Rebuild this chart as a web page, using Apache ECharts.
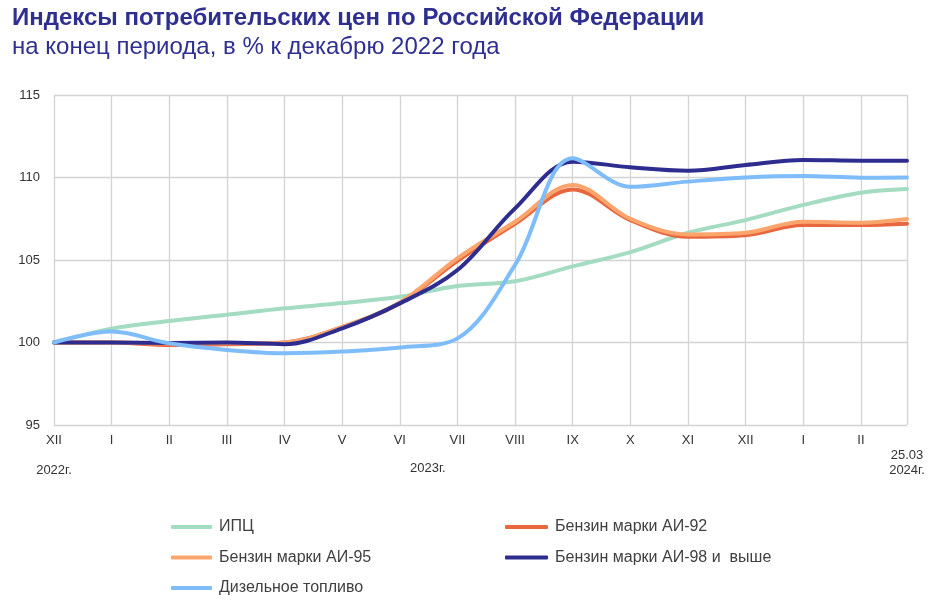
<!DOCTYPE html>
<html>
<head>
<meta charset="utf-8">
<script src="https://cdn.jsdelivr.net/npm/echarts@6/dist/echarts.min.js"></script>
<style>
  html, body { margin: 0; padding: 0; background: #ffffff; }
  #chart { width: 935px; height: 609px; }
</style>
</head>
<body>
<div id="chart"></div>
<script>
// Month position (months since end of December 2022) and axis labels
const monthPos = [0, 1, 2, 3, 4, 5, 6, 7, 8, 9, 10, 11, 12, 13, 14, 14.8];
const monthLabels = ['XII', 'I', 'II', 'III', 'IV', 'V', 'VI', 'VII', 'VIII', 'IX', 'X', 'XI', 'XII', 'I', 'II', '25.03'];
const yearLabels = { 0: '2022г.', 15: '2024г.' };
const midYearLabel = '2023г.';
const yTicks = [95, 100, 105, 110, 115];

const seriesNames = ['ИПЦ', 'Бензин марки АИ-92', 'Бензин марки АИ-95', 'Бензин марки АИ-98 и  выше', 'Дизельное топливо'];

const cpi    = [100, 100.84, 101.30, 101.68, 102.07, 102.39, 102.77, 103.42, 103.71, 104.61, 105.48, 106.65, 107.42, 108.34, 109.08, 109.30];
const ai92   = [100, 100.00, 99.85, 99.90, 100.00, 100.92, 102.38, 104.95, 107.20, 109.28, 107.42, 106.41, 106.50, 107.12, 107.12, 107.20];
const ai95   = [100, 100.00, 99.95, 99.95, 100.00, 100.95, 102.42, 105.10, 107.32, 109.55, 107.50, 106.55, 106.65, 107.32, 107.26, 107.48];
const ai98   = [100, 100.00, 99.97, 100.00, 99.90, 100.86, 102.37, 104.39, 108.13, 110.96, 110.62, 110.41, 110.76, 111.06, 111.02, 111.02];
const diesel = [100, 100.66, 99.95, 99.55, 99.35, 99.45, 99.70, 100.25, 104.70, 111.16, 109.44, 109.75, 110.00, 110.09, 109.99, 110.00];

const colors = ['#a3dcc0', '#e8673f', '#fba56d', '#2e2d8f', '#7fbdfa'];
const valueSets = [cpi, ai92, ai95, ai98, diesel];

function pairs(vals) { return vals.map((v, i) => [monthPos[i], v]); }

const chart = echarts.init(document.getElementById('chart'), null, { renderer: 'canvas' });

const FONT = 'Liberation Sans, Arial, sans-serif';

const option = {
  backgroundColor: '#ffffff',
  animation: false,
  color: colors,
  title: [
    { text: 'Индексы потребительских цен по Российской Федерации', left: 7, top: 1,
      textStyle: { fontFamily: FONT, fontSize: 24, fontWeight: 'bold', color: '#2e2f8f' } },
    { text: 'на конец периода, в % к декабрю 2022 года', left: 7, top: 30,
      textStyle: { fontFamily: FONT, fontSize: 24, fontWeight: 'normal', color: '#2e2f8f' } }
  ],
  grid: { left: 54, right: 28, top: 95, bottom: 184, containLabel: false },
  legend: [
    { data: [seriesNames[0], seriesNames[2], seriesNames[4]], orient: 'vertical', left: 166, top: 514,
      icon: 'roundRect', itemWidth: 41, itemHeight: 4, itemGap: 14.5,
      textStyle: { fontFamily: FONT, fontSize: 16, color: '#404040', padding: [0, 0, 0, 2] } },
    { data: [seriesNames[1], seriesNames[3]], orient: 'vertical', left: 500, top: 514,
      icon: 'roundRect', itemWidth: 43, itemHeight: 4, itemGap: 14.5,
      textStyle: { fontFamily: FONT, fontSize: 16, color: '#404040', padding: [0, 0, 0, 2] } }
  ],
  xAxis: {
    type: 'value', min: 0, max: monthPos[monthPos.length - 1], interval: 1,
    axisLine: { show: false }, axisTick: { show: false },
    splitLine: { show: true, lineStyle: { color: '#d3d3d3', width: 1.3 } },
    axisLabel: {
      showMinLabel: true, showMaxLabel: true, margin: 8,
      fontFamily: FONT, fontSize: 13, color: '#333333', lineHeight: 15,
      formatter: function (v) {
        const i = monthPos.findIndex(p => Math.abs(p - v) < 1e-6);
        if (i < 0) return '';
        if (i === monthPos.length - 1) return '\n' + monthLabels[i] + '\n' + yearLabels[i];
        if (yearLabels[i]) return monthLabels[i] + '\n\n' + yearLabels[i];
        return monthLabels[i];
      }
    }
  },
  yAxis: {
    type: 'value', min: yTicks[0], max: yTicks[yTicks.length - 1], interval: 5,
    axisLine: { show: false }, axisTick: { show: false },
    splitLine: { show: true, lineStyle: { color: '#d3d3d3', width: 1.3 } },
    axisLabel: { margin: 14, fontFamily: FONT, fontSize: 13, color: '#333333', padding: [0, 0, 5, 0] }
  },
  graphic: [
    { type: 'text', left: 410, top: 462,
      style: { text: midYearLabel, font: '13px "Liberation Sans", Arial, sans-serif', fill: '#333333' } }
  ],
  series: valueSets.map((vals, k) => ({
    name: seriesNames[k], type: 'line', data: pairs(vals), smooth: 0.35,
    showSymbol: false, symbol: 'none',
    lineStyle: { width: 4, color: colors[k], cap: 'round', join: 'round' },
    itemStyle: { color: colors[k] },
    z: 2 + k
  }))
};

chart.setOption(option);
</script>
</body>
</html>
